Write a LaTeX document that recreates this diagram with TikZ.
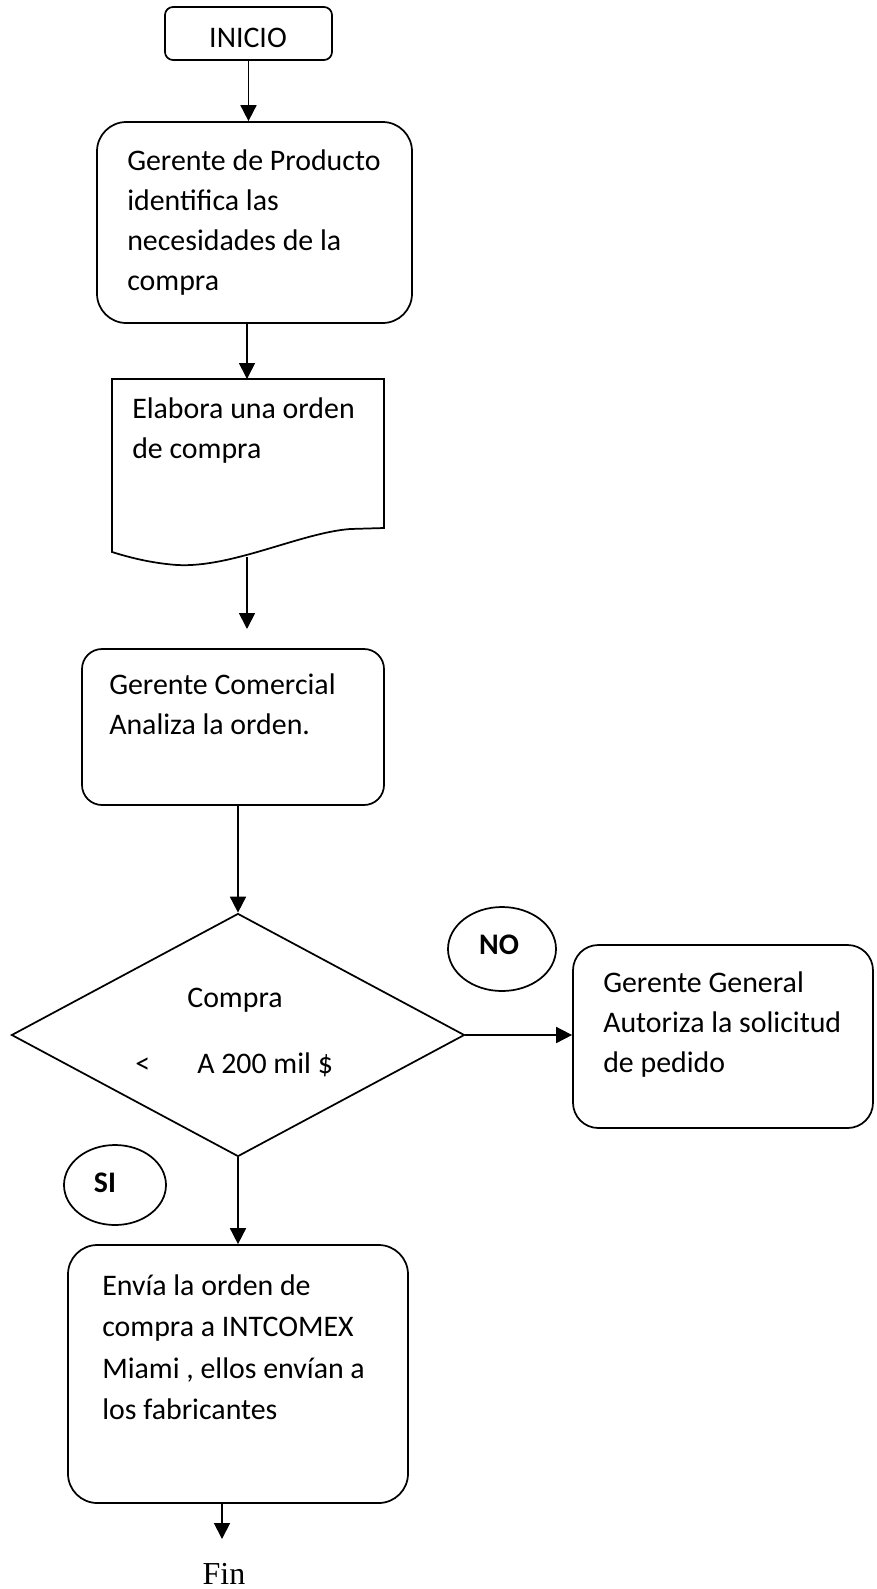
\documentclass[tikz,border=0pt]{standalone}
\usepackage{fontspec}
\setmainfont{Carlito}
\newfontfamily\finfont{Liberation Serif}
\usetikzlibrary{shapes.geometric,arrows.meta}
% multi-line block whose reference point is the first baseline
\newcommand\blk[1]{\parbox[t]{14cm}{\raggedright #1}}

\begin{document}
\begin{tikzpicture}[x=0.75pt,y=-0.75pt,
  every node/.style={inner sep=0pt},
  line/.style={line width=1.3pt},
  arr/.style={line width=1.3pt,-{Triangle[length=12pt,width=12pt]}},
  procbox/.style={draw,line width=1.3pt,rectangle},
  oval/.style={draw,ellipse,line width=1.3pt},
  txt/.style={anchor=base west,font=\fontsize{22.4}{30}\selectfont},
  ctxt/.style={anchor=base,font=\fontsize{22.4}{30}\selectfont},
  btxt/.style={anchor=base,font=\fontsize{22.4}{30}\selectfont\bfseries}]
\useasboundingbox (0,0) rectangle (876,1589);

% start terminal
\node[procbox,rounded corners=6pt,minimum width=167*0.75pt,minimum height=53*0.75pt] (ini) at (248.5,33.5) {};
\node[ctxt] (initxt) at (248,47) {INICIO};

% product manager step
\node[procbox,rounded corners=22pt,minimum width=315*0.75pt,minimum height=201*0.75pt] (b1) at (254.5,222.5) {};
\node[txt] (b1txt) at (127,170) {\blk{Gerente de Producto\\identifica las\\necesidades de la\\compra}};

% purchase order document
\draw[line] (112,379) -- (384,379) -- (384,528) -- (350,529)
  .. controls (300,533) and (232,568) .. (177,565)
  .. controls (150,563) and (128,557) .. (112,552) -- cycle;
\coordinate (doctop) at (247,379);
\coordinate (docbot) at (247,557);
\node[txt] (doctxt) at (132,418) {\blk{Elabora una orden\\de compra}};

% commercial manager step
\coordinate (b2in) at (247,629);
\node[procbox,rounded corners=15pt,minimum width=302*0.75pt,minimum height=156*0.75pt] (b2) at (233,727) {};
\node[txt] (b2txt) at (109,694) {\blk{Gerente Comercial\\Analiza la orden.}};

% amount decision
\node[draw,diamond,line width=1.3pt,minimum width=453*0.75pt,minimum height=243*0.75pt] (dec) at (238,1035) {};
\node[ctxt] (dect1) at (235,1007) {Compra};
\node[txt] (dect2) at (135,1073) {<};
\node[txt] (dect3) at (197,1073) {A 200 mil \$};

% branch labels
\node[oval,minimum width=108*0.75pt,minimum height=84*0.75pt] (no) at (502,949) {};
\node[btxt] (notxt) at (499,954) {NO};
\node[oval,minimum width=102*0.75pt,minimum height=80*0.75pt] (si) at (115,1185) {};
\node[btxt] (sitxt) at (105,1192) {SI};

% general manager step
\node[procbox,rounded corners=19pt,minimum width=300*0.75pt,minimum height=183*0.75pt] (gg) at (723,1036.5) {};
\node[txt] (ggtxt) at (603,992) {\blk{Gerente General\\Autoriza la solicitud\\de pedido}};

% send order step
\node[procbox,rounded corners=22pt,minimum width=340*0.75pt,minimum height=258*0.75pt] (env) at (238,1374) {};
\node[txt,font=\fontsize{22.4}{31.2}\selectfont] (envtxt) at (102,1295) {\blk{Envía la orden de\\compra a INTCOMEX\\Miami , ellos envían a\\los fabricantes}};

% end
\coordinate (finin) at (222,1539);
\node[anchor=base,font=\finfont\fontsize{24}{28}\selectfont] (fin) at (224,1584) {Fin};

% connectors
\draw[arr] (ini.south) -- (ini.south |- b1.north);
\draw[arr] (doctop |- b1.south) -- (doctop);
\draw[arr] (docbot) -- (b2in);
\draw[arr] (b2.south -| dec.north) -- (dec.north);
\draw[arr] (dec.east) -- (dec.east -| gg.west);
\draw[arr] (dec.south) -- (dec.south |- env.north);
\draw[arr] (env.south -| finin) -- (finin);
\end{tikzpicture}
\end{document}
